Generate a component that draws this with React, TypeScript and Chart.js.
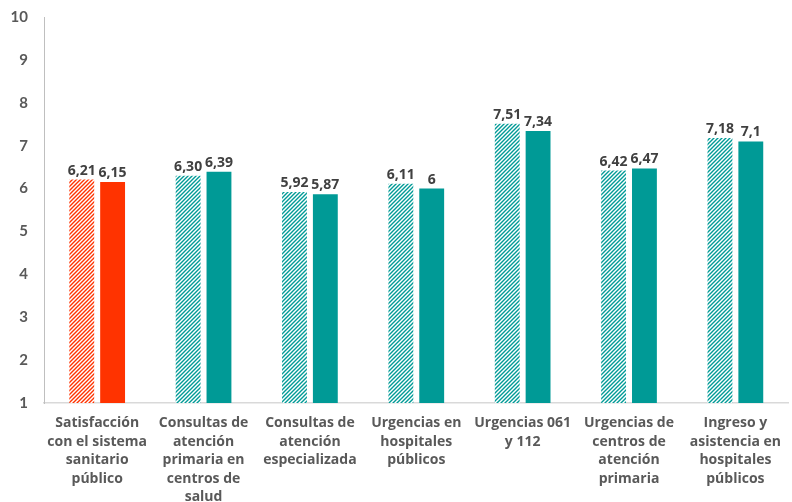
import React, { useEffect, useRef } from "react";
import { Chart, registerables } from "chart.js";

Chart.register(...registerables);

const categories: string[][] = [
  ["Satisfacción", "con el sistema", "sanitario", "público"],
  ["Consultas de", "atención", "primaria en", "centros de", "salud"],
  ["Consultas de", "atención", "especializada"],
  ["Urgencias en", "hospitales", "públicos"],
  ["Urgencias 061", "y 112"],
  ["Urgencias de", "centros de", "atención", "primaria"],
  ["Ingreso y", "asistencia en", "hospitales", "públicos"],
];
const seriesA: number[] = [6.21, 6.3, 5.92, 6.11, 7.51, 6.42, 7.18];
const seriesB: number[] = [6.15, 6.39, 5.87, 6.0, 7.34, 6.47, 7.1];
const labelsA: string[] = ["6,21", "6,30", "5,92", "6,11", "7,51", "6,42", "7,18"];
const labelsB: string[] = ["6,15", "6,39", "5,87", "6", "7,34", "6,47", "7,1"];
const yTicks: number[] = [1, 2, 3, 4, 5, 6, 7, 8, 9, 10];

const RED = "#FF3300";
const TEAL = "#009A96";
const LABEL_FONT = "'Open Sans', Lato, sans-serif";
const TICK_FONT = "Lato, 'Open Sans', sans-serif";
const GRAY = "#595959";

function hatch(color: string): CanvasPattern | string {
  const c = document.createElement("canvas");
  c.width = 4;
  c.height = 4;
  const ctx = c.getContext("2d");
  if (!ctx) return color;
  ctx.fillStyle = "#ffffff";
  ctx.fillRect(0, 0, 4, 4);
  ctx.strokeStyle = color;
  ctx.lineWidth = 1.4;
  ctx.beginPath();
  ctx.moveTo(-1, 5);
  ctx.lineTo(5, -1);
  ctx.moveTo(-1, 1);
  ctx.lineTo(1, -1);
  ctx.moveTo(3, 5);
  ctx.lineTo(5, 3);
  ctx.stroke();
  const p = ctx.createPattern(c, "repeat");
  return p || color;
}

const labelPlugin = {
  id: "barLabels",
  afterDatasetsDraw(chart: any) {
    const ctx = chart.ctx;
    ctx.save();
    ctx.font = `bold 14px ${LABEL_FONT}`;
    ctx.fillStyle = "#404040";
    ctx.textAlign = "center";
    ctx.textBaseline = "bottom";
    chart.data.datasets.forEach((ds: any, di: number) => {
      const meta = chart.getDatasetMeta(di);
      const labs = di === 0 ? labelsA : labelsB;
      meta.data.forEach((bar: any, i: number) => {
        ctx.fillText(labs[i], bar.x, bar.y - 2);
      });
    });
    ctx.restore();
  },
};

export default function App() {
  const ref = useRef<HTMLCanvasElement | null>(null);
  useEffect(() => {
    document.body.style.margin = "0";
    if (!ref.current) return;
    const hatchRed = hatch(RED);
    const hatchTeal = hatch(TEAL);
    const chart = new Chart(ref.current, {
      type: "bar",
      data: {
        labels: categories,
        datasets: [
          {
            data: seriesA,
            backgroundColor: seriesA.map((_, i) => (i === 0 ? hatchRed : hatchTeal)) as any,
            categoryPercentage: 0.58,
            barPercentage: 0.806,
            base: 1,
          },
          {
            data: seriesB,
            backgroundColor: seriesB.map((_, i) => (i === 0 ? RED : TEAL)),
            categoryPercentage: 0.58,
            barPercentage: 0.806,
            base: 1,
          },
        ],
      },
      options: {
        animation: false,
        responsive: false,
        layout: { padding: { top: 17, right: 0, left: 0, bottom: 0 } },
        plugins: { legend: { display: false }, tooltip: { enabled: false } },
        scales: {
          x: {
            grid: { display: false, drawTicks: false },
            border: { color: "#D9D9D9", width: 1.5 },
            ticks: {
              color: GRAY,
              font: { family: LABEL_FONT, size: 14, weight: "bold", lineHeight: 1.32 },
              maxRotation: 0,
              autoSkip: false,
              padding: 11,
            },
            afterFit: (s: any) => {
              s.height = 99;
            },
          },
          y: {
            min: 1,
            max: 10,
            afterBuildTicks: (s: any) => {
              s.ticks = yTicks.map((v) => ({ value: v }));
            },
            grid: { display: false, drawTicks: false },
            border: { color: "#BFBFBF", width: 1 },
            ticks: {
              color: GRAY,
              font: { family: TICK_FONT, size: 15, weight: "bold", lineHeight: 0.1 },
              padding: 16,
            },
            afterFit: (s: any) => {
              s.width = 44;
            },
          },
        },
      },
      plugins: [labelPlugin],
    });
    return () => chart.destroy();
  }, []);
  return (
    <div style={{ width: 792, height: 502 }}>
      <canvas ref={ref} width={792} height={502} style={{ display: "block" }} />
    </div>
  );
}
